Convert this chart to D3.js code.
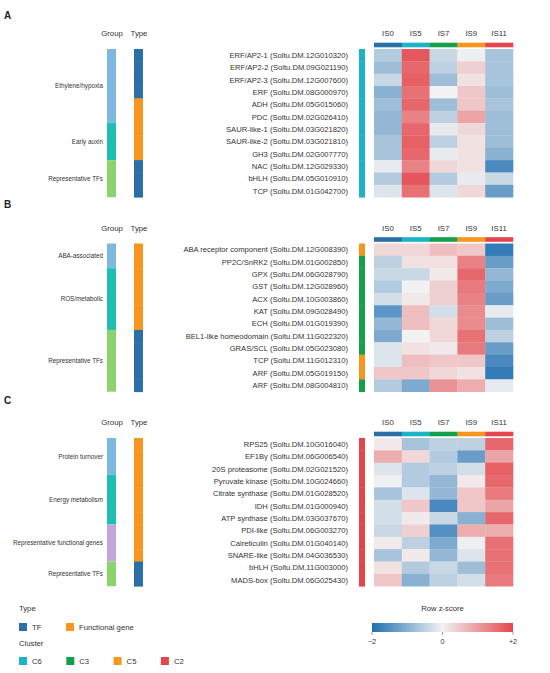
<!DOCTYPE html>
<html>
<head>
<meta charset="utf-8">
<script src="https://cdn.jsdelivr.net/npm/d3@7"></script>
<style>
  body { margin: 0; background: #fff; }
  text { font-family: "Liberation Sans", Arial, sans-serif; fill: #333; }
</style>
</head>
<body>
<div id="chart"></div>
<script>
const stages = ['IS0', 'IS5', 'IS7', 'IS9', 'IS11']

// panel A
const genesA = ['ERF/AP2-1 (Soltu.DM.12G010320)', 'ERF/AP2-2 (Soltu.DM.09G021190)', 'ERF/AP2-3 (Soltu.DM.12G007600)',
  'ERF (Soltu.DM.08G000970)', 'ADH (Soltu.DM.05G015060)', 'PDC (Soltu.DM.02G026410)',
  'SAUR-like-1 (Soltu.DM.03G021820)', 'SAUR-like-2 (Soltu.DM.03G021810)', 'GH3 (Soltu.DM.02G007770)',
  'NAC (Soltu.DM.12G029330)', 'bHLH (Soltu.DM.05G010910)', 'TCP (Soltu.DM.01G042700)']
const valuesA = [
  [-0.6, 1.8, -0.4, -0.05, -0.7],
  [-0.8, 1.6, -0.5, 0.4, -0.7],
  [-0.4, 1.7, -0.8, 0.2, -0.7],
  [-1.0, 1.5, 0.0, 0.5, -0.8],
  [-0.8, 1.6, -0.8, 0.5, -0.7],
  [-0.9, 1.3, -0.5, 0.9, -0.8],
  [-0.9, 1.6, -0.1, 0.3, -0.8],
  [-0.7, 1.7, -0.5, 0.2, -0.8],
  [-0.7, 1.6, -0.1, 0.2, -1.0],
  [-0.1, 1.3, 0.3, 0.2, -1.6],
  [-0.6, 1.8, -0.6, -0.1, -0.4],
  [-0.2, 1.5, -0.2, 0.3, -1.3]
]
const groupsA = [['Ethylene/hypoxia', 6], ['Early auxin', 3], ['Representative TFs', 3]]
const typesA = ['TF', 'TF', 'TF', 'TF', 'FG', 'FG', 'FG', 'FG', 'FG', 'TF', 'TF', 'TF']
const clustersA = ['C6', 'C6', 'C6', 'C6', 'C6', 'C6', 'C6', 'C6', 'C6', 'C6', 'C6', 'C6']

// panel B
const genesB = ['ABA receptor component (Soltu.DM.12G008390)', 'PP2C/SnRK2 (Soltu.DM.01G002850)',
  'GPX (Soltu.DM.06G028790)', 'GST (Soltu.DM.12G028960)', 'ACX (Soltu.DM.10G003860)',
  'KAT (Soltu.DM.09G028490)', 'ECH (Soltu.DM.01G019390)', 'BEL1-like homeodomain (Soltu.DM.11G022320)',
  'GRAS/SCL (Soltu.DM.05G023080)', 'TCP (Soltu.DM.11G012310)', 'ARF (Soltu.DM.05G019150)',
  'ARF (Soltu.DM.08G004810)']
const valuesB = [
  [0.3, 0.3, 0.6, 0.5, -1.8],
  [-0.5, 0.2, 0.2, 1.3, -1.3],
  [-0.4, -0.4, 0.1, 1.6, -0.9],
  [-0.6, 0.0, 0.4, 1.4, -1.1],
  [-0.3, 0.1, 0.4, 1.3, -1.3],
  [-1.4, 0.6, -0.3, 1.2, -0.1],
  [-0.9, 0.6, 0.3, 1.2, -0.8],
  [-1.1, 0.0, 0.3, 1.5, -0.5],
  [-0.2, 0.2, 0.1, 1.4, -1.3],
  [-0.2, 0.6, 0.5, 0.5, -1.6],
  [0.5, 0.5, 0.3, 0.2, -1.8],
  [-0.6, -1.1, 1.1, 0.8, -0.1]
]
const groupsB = [['ABA-associated', 2], ['ROS/metabolic', 5], ['Representative TFs', 5]]
const typesB = ['FG', 'FG', 'FG', 'FG', 'FG', 'FG', 'FG', 'TF', 'TF', 'TF', 'TF', 'TF']
const clustersB = ['C5', 'C3', 'C3', 'C3', 'C3', 'C3', 'C3', 'C3', 'C3', 'C5', 'C5', 'C3']

// panel C
const genesC = ['RPS25 (Soltu.DM.10G016040)', 'EF1Bγ (Soltu.DM.06G006540)', '20S proteasome (Soltu.DM.02G021520)',
  'Pyruvate kinase (Soltu.DM.10G024660)', 'Citrate synthase (Soltu.DM.01G028520)', 'IDH (Soltu.DM.01G000940)',
  'ATP synthase (Soltu.DM.03G037670)', 'PDI-like (Soltu.DM.06G003270)', 'Calreticulin (Soltu.DM.01G040140)',
  'SNARE-like (Soltu.DM.04G036530)', 'bHLH (Soltu.DM.11G003000)', 'MADS-box (Soltu.DM.06G025430)']
const valuesC = [
  [0.1, -0.7, -0.5, -0.5, 1.6],
  [0.8, 0.3, -0.6, -1.3, 0.9],
  [-0.2, -0.6, -0.5, -0.3, 1.7],
  [-0.05, -0.6, -0.9, 0.1, 1.6],
  [-0.7, -0.2, -0.9, 0.5, 1.4],
  [-0.3, 0.5, -1.6, 0.5, 0.9],
  [-0.3, 0.1, -0.4, -1.0, 1.6],
  [-0.4, 0.4, -1.5, 0.8, 0.8],
  [0.1, -0.5, -1.1, -0.05, 1.5],
  [-0.7, 0.1, -0.9, -0.2, 1.5],
  [0.2, -0.6, -0.4, -0.8, 1.5],
  [0.5, -1.0, -0.5, -0.3, 1.4]
]
const groupsC = [['Protein turnover', 3], ['Energy metabolism', 4], ['Representative functional genes', 3], ['Representative TFs', 2]]
const typesC = ['FG', 'FG', 'FG', 'FG', 'FG', 'FG', 'FG', 'FG', 'FG', 'FG', 'TF', 'TF']
const clustersC = ['C2', 'C2', 'C2', 'C2', 'C2', 'C2', 'C2', 'C2', 'C2', 'C2', 'C2', 'C2']

const typeLabels = [['TF', 'TF'], ['FG', 'Functional gene']]
const clusterLabels = ['C6', 'C3', 'C5', 'C2']
const zTicks = [-2, 0, 2]

// colours
const typeColor = { TF: '#2a6fa6', FG: '#f7961f' }
const clusterColor = { C6: '#1ab4c6', C3: '#16a04c', C5: '#f7961f', C2: '#e3454c' }
const stageColor = ['#2a6fa6', '#1ab4c6', '#16a04c', '#f7961f', '#e3454c']
const groupColor = {
  'Ethylene/hypoxia': '#7db8e2', 'ABA-associated': '#7db8e2', 'Protein turnover': '#7db8e2',
  'Early auxin': '#1cbfb2', 'ROS/metabolic': '#1cbfb2', 'Energy metabolism': '#1cbfb2',
  'Representative functional genes': '#c3a6d8', 'Representative TFs': '#8cd36c'
}
const zColor = d3.scaleLinear().domain([-2, 0, 2])
                 .range(['#1f6fb2', '#f2f2f2', '#e4464b'])
                 .interpolate(d3.interpolateRgb)
                 .clamp(true)

const W = 550, H = 673
const ROW_H = 12.35
const svg = d3.select('#chart').append('svg')
              .attr('width', W)
              .attr('height', H)

const x = d3.scaleBand().domain(stages).range([374, 513])

const panels = [
  { letter: 'A', top: 49, letterY: 19, genes: genesA, values: valuesA, groups: groupsA, types: typesA, clusters: clustersA },
  { letter: 'B', top: 243.5, letterY: 208, genes: genesB, values: valuesB, groups: groupsB, types: typesB, clusters: clustersB },
  { letter: 'C', top: 438, letterY: 404, genes: genesC, values: valuesC, groups: groupsC, types: typesC, clusters: clustersC }
]

const drawPanel = p => {
  const y = d3.scaleBand().domain(d3.range(p.genes.length))
              .range([p.top, p.top + p.genes.length * ROW_H])
  const g = svg.append('g')

  g.append('text')
     .attr('x', 4).attr('y', p.letterY)
     .attr('font-size', 10).attr('font-weight', 'bold')
     .style('fill', '#222')
     .text(p.letter)

  g.append('text').attr('x', 112).attr('y', p.top - 13)
     .attr('text-anchor', 'middle').attr('font-size', 7.8).text('Group')
  g.append('text').attr('x', 139).attr('y', p.top - 13)
     .attr('text-anchor', 'middle').attr('font-size', 7.8).text('Type')

  // group bar
  let start = 0
  p.groups.forEach(([name, n]) => {
    const y0 = y(start), y1 = y(start + n - 1) + y.bandwidth()
    g.append('rect').attr('x', 107).attr('y', y0).attr('width', 9).attr('height', y1 - y0)
       .attr('fill', groupColor[name])
    g.append('text').attr('x', 103).attr('y', (y0 + y1) / 2).attr('dy', '0.35em')
       .attr('text-anchor', 'end').attr('font-size', 6.3).text(name)
    start += n
  })

  // type bar
  g.selectAll('rect.type').data(p.types).enter()
     .append('rect').attr('class', 'type')
     .attr('x', 134).attr('y', (d, i) => y(i))
     .attr('width', 9).attr('height', y.bandwidth() + 0.4)
     .attr('fill', d => typeColor[d])

  // gene labels
  g.selectAll('text.gene').data(p.genes).enter()
     .append('text').attr('class', 'gene')
     .attr('x', 348).attr('y', (d, i) => y(i) + y.bandwidth() / 2)
     .attr('dy', '0.35em').attr('text-anchor', 'end')
     .attr('font-size', 7.6)
     .text(d => d)

  // cluster bar
  g.selectAll('rect.cluster').data(p.clusters).enter()
     .append('rect').attr('class', 'cluster')
     .attr('x', 359).attr('y', (d, i) => y(i))
     .attr('width', 6).attr('height', y.bandwidth() + 0.4)
     .attr('fill', d => clusterColor[d])

  // stage header + colour strip
  g.selectAll('text.stage').data(stages).enter()
     .append('text').attr('class', 'stage')
     .attr('x', d => x(d) + x.bandwidth() / 2).attr('y', p.top - 13)
     .attr('text-anchor', 'middle').attr('font-size', 7.8)
     .text(d => d)
  g.selectAll('rect.strip').data(stages).enter()
     .append('rect').attr('class', 'strip')
     .attr('x', d => x(d)).attr('y', p.top - 6.3)
     .attr('width', x.bandwidth() + 0.3).attr('height', 4.6)
     .attr('fill', (d, i) => stageColor[i])

  // cells
  const rows = g.selectAll('g.row').data(p.values).enter()
                .append('g').attr('class', 'row')
  rows.selectAll('rect').data((d, i) => d.map((v, j) => ({ v, i, j }))).enter()
      .append('rect')
      .attr('x', d => x(stages[d.j]))
      .attr('y', d => y(d.i))
      .attr('width', x.bandwidth() + 0.3)
      .attr('height', y.bandwidth() + 0.3)
      .attr('fill', d => zColor(d.v))
}

panels.forEach(drawPanel)

// legends
const leg = svg.append('g').attr('font-size', 7.7)
leg.append('text').attr('x', 19).attr('y', 611).attr('font-size', 7.7).text('Type')
typeLabels.forEach(([k, label], i) => {
  leg.append('rect').attr('x', 19 + i * 47).attr('y', 623).attr('width', 8).attr('height', 8)
     .attr('fill', typeColor[k])
  leg.append('text').attr('x', 32 + i * 47).attr('y', 627).attr('dy', '0.35em')
     .attr('font-size', 7.7).text(label)
})
leg.append('text').attr('x', 19).attr('y', 646).attr('font-size', 7.7).text('Cluster')
clusterLabels.forEach((k, i) => {
  leg.append('rect').attr('x', 19 + i * 47.3).attr('y', 657).attr('width', 8).attr('height', 8)
     .attr('fill', clusterColor[k])
  leg.append('text').attr('x', 32 + i * 47.3).attr('y', 661).attr('dy', '0.35em')
     .attr('font-size', 7.7).text(k)
})

// colour bar
const zx = d3.scaleLinear().domain([-2, 2]).range([372, 513])
const grad = svg.append('defs').append('linearGradient').attr('id', 'zgrad')
d3.range(0, 1.0001, 0.1).forEach(t => {
  grad.append('stop').attr('offset', t).attr('stop-color', zColor(-2 + 4 * t))
})
leg.append('text').attr('x', zx(0)).attr('y', 611).attr('text-anchor', 'middle')
   .attr('font-size', 7.7).text('Row z-score')
leg.append('rect').attr('x', zx(-2)).attr('y', 623).attr('width', zx(2) - zx(-2)).attr('height', 9)
   .attr('fill', 'url(#zgrad)')
zTicks.forEach(t => {
  leg.append('line').attr('x1', zx(t)).attr('x2', zx(t)).attr('y1', 632).attr('y2', 635)
     .attr('stroke', '#555').attr('stroke-width', 0.6)
  leg.append('text').attr('x', zx(t)).attr('y', 644).attr('text-anchor', 'middle')
     .attr('font-size', 7.2).text(t > 0 ? '+' + t : (t < 0 ? '\u2212' + Math.abs(t) : '0'))
})
</script>
</body>
</html>
